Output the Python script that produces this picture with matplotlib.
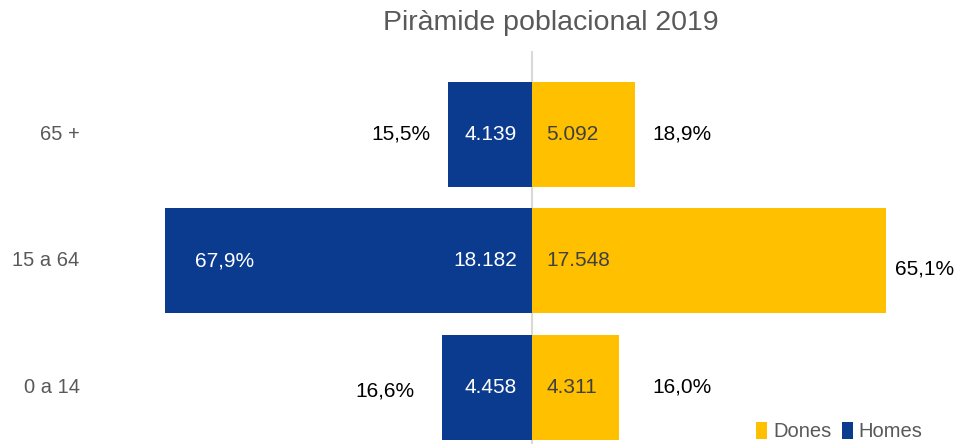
import matplotlib.pyplot as plt

plt.rcParams['font.family'] = ['Liberation Sans', 'DejaVu Sans']

grups = ['0 a 14', '15 a 64', '65 +']
homes = [4.458, 18.182, 4.139]
dones = [4.311, 17.548, 5.092]
pct_homes = ['16,6%', '67,9%', '15,5%']
pct_dones = ['16,0%', '65,1%', '18,9%']

blau = '#0b3b8f'
groc = '#ffc000'
gris = '#595959'

fig = plt.figure(figsize=(9.6, 4.44), dpi=100)
ax = fig.add_axes([0, 0, 1, 1])
ax.set_xlim(-26.34, 21.19)
ax.set_ylim(-0.447, 3.063)
ax.axis('off')

ys = range(len(grups))
ax.barh(ys, [-h for h in homes], height=0.83, color=blau, label='Homes')
ax.barh(ys, dones, height=0.83, color=groc, label='Dones')
ax.plot([0, 0], [-0.5, 2.65], color='#d9d9d9', lw=1.5, zorder=0.5)

# posicions de les etiquetes de percentatge (en milers)
pos_ph = [-5.84, -15.2, -5.05]
pos_pd = [5.94, 17.97, 5.94]

fs = 15
for y, g, h, d, ph, pd_, xh, xd in zip(ys, grups, homes, dones, pct_homes,
                                      pct_dones, pos_ph, pos_pd):
    ax.text(-22.4, y, g, ha='right', va='center', fontsize=14.5, color=gris)
    ax.text(-0.75, y, f'{h:.3f}', ha='right', va='center', fontsize=fs, color='white')
    ax.text(0.7, y, f'{d:.3f}', ha='left', va='center', fontsize=fs, color='#404040')
    if h > 10:
        ax.text(xh, y, ph, ha='center', va='center', fontsize=fs, color='white')
    else:
        ax.text(xh, y - (0.03 if y == 0 else 0), ph, ha='right', va='center',
                fontsize=fs, color='black')
    ax.text(xd, y - (0.06 if d > 10 else 0), pd_, ha='left', va='center',
            fontsize=fs, color='black')

fig.text(0.574, 0.948, 'Piràmide poblacional 2019', ha='center', va='center',
         fontsize=20.5, color=gris)

hnd, lab = ax.get_legend_handles_labels()
ax.legend(hnd[::-1], lab[::-1], loc='lower right', bbox_to_anchor=(0.98, -0.035),
          frameon=False, fontsize=14.5, ncol=2, handlelength=0.55, handleheight=0.9,
          handletextpad=0.3, columnspacing=0.5, labelcolor=gris)

plt.savefig('out.png')
